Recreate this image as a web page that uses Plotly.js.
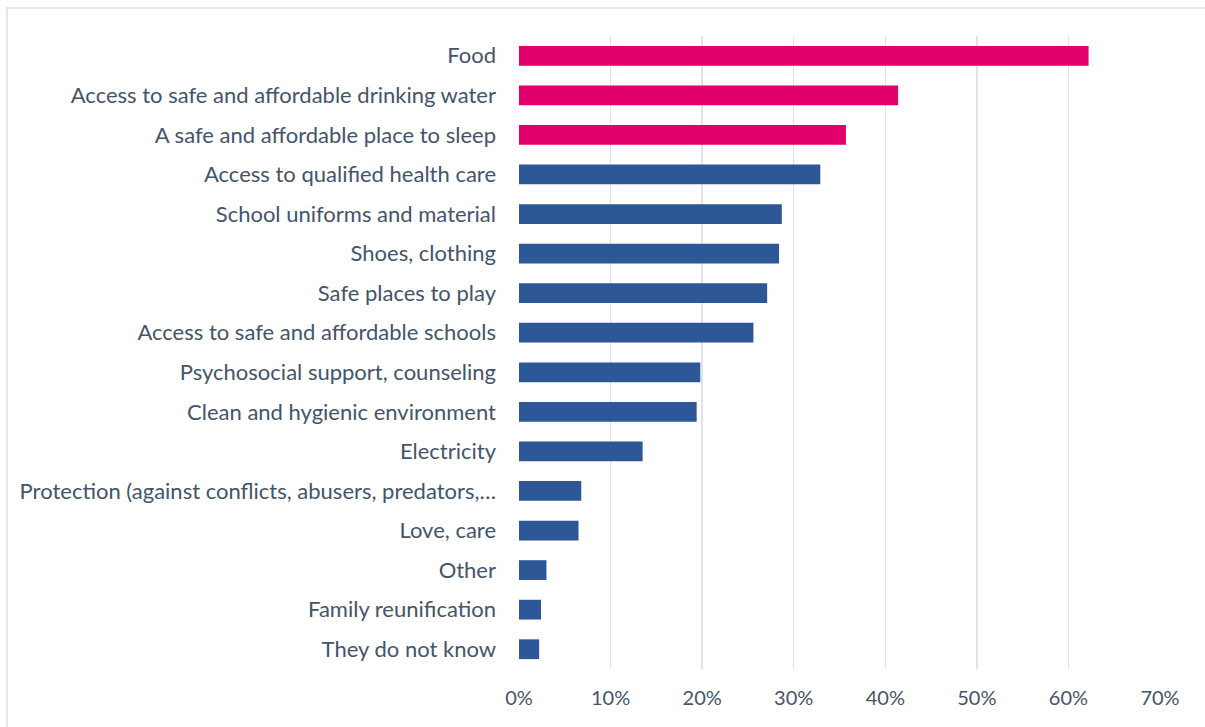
<!DOCTYPE html>
<html>
<head>
<meta charset="utf-8">
<script src="https://cdn.plot.ly/plotly-3.0.1.min.js"></script>
<style>
  html, body { margin: 0; padding: 0; background: #ffffff; overflow: hidden; }
  #frame { position: absolute; left: 6px; top: 7px; width: 1300px; height: 800px;
           border-left: 2px solid #E3E6EB; border-top: 2px solid #E3E6EB; }
  #chart { position: absolute; left: 0; top: 0; width: 1205px; height: 727px; }
</style>
</head>
<body>
<div id="frame"></div>
<div id="chart"></div>
<script>
const categories = [
  "Food",
  "Access to safe and affordable drinking water",
  "A safe and affordable place to sleep",
  "Access to qualified health care",
  "School uniforms and material",
  "Shoes, clothing",
  "Safe places to play",
  "Access to safe and affordable schools",
  "Psychosocial support, counseling",
  "Clean and hygienic environment",
  "Electricity",
  "Protection (against conflicts, abusers, predators,…",
  "Love, care",
  "Other",
  "Family reunification",
  "They do not know"
];
const values = [0.622, 0.414, 0.357, 0.329, 0.287, 0.284, 0.271, 0.256, 0.198, 0.194, 0.135, 0.068, 0.065, 0.030, 0.024, 0.022];
const highlighted = [true, true, true, false, false, false, false, false, false, false, false, false, false, false, false, false];
const tickValues = [0, 0.1, 0.2, 0.3, 0.4, 0.5, 0.6, 0.7];
const tickLabels = ["0%", "10%", "20%", "30%", "40%", "50%", "60%", "70%"];

const pink = "#E2006A";
const blue = "#2E5797";
const textColor = "#44546A";

const trace = {
  type: "bar",
  orientation: "h",
  x: values,
  y: categories,
  marker: { color: highlighted.map(h => h ? pink : blue) },
  hoverinfo: "x+y"
};

const layout = {
  width: 1205,
  height: 727,
  margin: { l: 519, r: 45, t: 36, b: 58, pad: 0 },
  paper_bgcolor: "rgba(0,0,0,0)",
  plot_bgcolor: "rgba(0,0,0,0)",
  bargap: 0.5,
  showlegend: false,
  font: { family: "Lato, 'Open Sans', sans-serif", size: 19, color: textColor },
  xaxis: {
    range: [0, 0.7],
    tickvals: tickValues,
    ticktext: tickLabels,
    showgrid: true,
    gridcolor: "#E0E3EA",
    gridwidth: 1.5,
    zeroline: false,
    showline: false,
    ticks: "",
    ticklabelstandoff: 15,
    tickfont: { family: "Lato, sans-serif", size: 20, color: textColor },
    fixedrange: true
  },
  yaxis: {
    type: "category",
    categoryorder: "array",
    categoryarray: categories,
    autorange: "reversed",
    showgrid: false,
    zeroline: false,
    showline: false,
    ticks: "",
    ticklabelstandoff: 22,
    tickfont: { family: "Lato, sans-serif", size: 22, color: textColor },
    fixedrange: true
  }
};

Plotly.newPlot("chart", [trace], layout, { displayModeBar: false, staticPlot: true });
</script>
</body>
</html>
